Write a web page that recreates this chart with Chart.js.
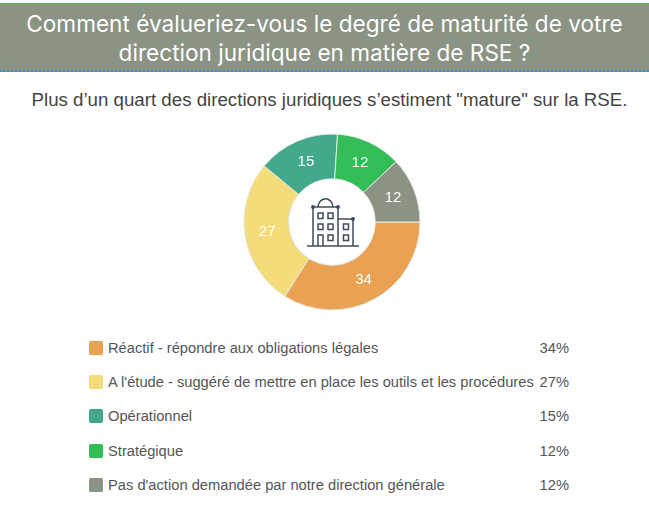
<!DOCTYPE html>
<html lang="fr">
<head>
<meta charset="utf-8">
<script src="https://cdn.jsdelivr.net/npm/chart.js@4"></script>
<style>
  html, body { margin: 0; padding: 0; background: #fff; }
  body { position: relative; width: 649px; height: 512px; overflow: hidden; font-family: "Liberation Sans", Arial, sans-serif; }
  #header { position: absolute; left: 0; top: 3px; width: 649px; height: 69px; background: #8a9384; border-top: 1px solid #5b9bd5; border-bottom: 2px dotted #4a8ac4; box-sizing: border-box; }
  #title { position: absolute; left: 0; top: 9px; width: 649px; text-align: center; color: #fff; font: 400 22.6px/29px Inter, sans-serif; white-space: nowrap; }
  #subtitle { position: absolute; left: 0; top: 88px; width: 659px; text-align: center; color: #444; font-size: 18.7px; line-height: 24px; white-space: nowrap; }
  #donut { position: absolute; left: 242px; top: 132px; }
  #icon { position: absolute; left: 304.5px; top: 192px; width: 60px; height: 60px; }
  .row { position: absolute; left: 89px; width: 480px; height: 20px; color: #555; font-size: 14.7px; line-height: 20px; white-space: nowrap; }
  .swatch { position: absolute; left: 0; top: 3px; width: 14px; height: 14px; border-radius: 2px; }
  .name { position: absolute; left: 19px; top: 0; }
  .pct { position: absolute; right: 0; top: 0; }
</style>
</head>
<body>
<div id="header"></div>
<div id="title">Comment évalueriez-vous le degré de maturité de votre<br>direction juridique en matière de RSE ?</div>
<div id="subtitle">Plus d’un quart des directions juridiques s’estiment "mature" sur la RSE.</div>
<canvas id="donut" width="180" height="180"></canvas>
<svg id="icon" viewBox="0 0 60 60" fill="none" stroke="#3f4b5c" stroke-width="1.5">
  <path d="M2 54H54"/>
  <path d="M8 54V15H33V54M33 27H48V54"/>
  <path d="M13 15C14 4 27 4 28 15M16 9C18 6 23 6 25 9"/>
  <rect x="13" y="21" width="5" height="5.5"/><rect x="23" y="21" width="5" height="5.5"/>
  <rect x="13" y="32" width="5" height="5.5"/><rect x="23" y="32" width="5" height="5.5"/><rect x="38.5" y="32" width="5" height="5.5"/>
  <path d="M13 54V43H18V54"/><rect x="23" y="43" width="5" height="5.5"/><rect x="38.5" y="43" width="5" height="5.5"/>
  <circle cx="8" cy="15" r="1.2" fill="#3f4b5c"/><circle cx="33" cy="15" r="1.2" fill="#3f4b5c"/><circle cx="48" cy="27" r="1.2" fill="#3f4b5c"/>
</svg>
<script>
'use strict';

const categories = [
  'Réactif - répondre aux obligations légales',
  "A l'étude - suggéré de mettre en place les outils et les procédures",
  'Opérationnel',
  'Stratégique',
  "Pas d'action demandée par notre direction générale",
];
const values = [34, 27, 15, 12, 12];
const colors = ['#e9a253', '#f5dc7b', '#43a98c', '#33bd56', '#8a9384'];
const rowTops = [338, 372, 406, 441, 475];

// Value labels inside each slice
const sliceLabels = {
  id: 'sliceLabels',
  afterDatasetsDraw(chart) {
    const ctx = chart.ctx;
    ctx.save();
    ctx.fillStyle = '#fff';
    ctx.font = '15px "Liberation Sans", Arial, sans-serif';
    ctx.textAlign = 'center';
    ctx.textBaseline = 'middle';
    chart.getDatasetMeta(0).data.forEach((arc, i) => {
      const pos = arc.tooltipPosition();
      ctx.fillText(values[i], pos.x, pos.y);
    });
    ctx.restore();
  },
};

new Chart(document.getElementById('donut'), {
  type: 'doughnut',
  data: {
    labels: categories,
    datasets: [{
      data: values,
      backgroundColor: colors,
      borderColor: '#e4e8e4',
      borderWidth: 1,
    }],
  },
  options: {
    responsive: false,
    animation: false,
    rotation: 90,
    cutout: 44,
    radius: 88,
    plugins: { legend: { display: false }, tooltip: { enabled: false } },
  },
  plugins: [sliceLabels],
});

// Legend rows
categories.forEach((name, i) => {
  const row = document.createElement('div');
  row.className = 'row';
  row.style.top = rowTops[i] + 'px';
  row.innerHTML = `<span class="swatch" style="background:${colors[i]}"></span>` +
    `<span class="name">${name}</span><span class="pct">${values[i]}%</span>`;
  document.body.appendChild(row);
});
</script>
</body>
</html>
